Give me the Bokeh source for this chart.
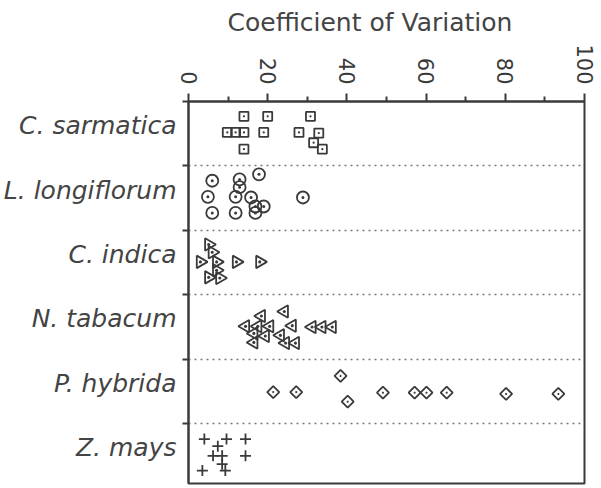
import math
from bokeh.plotting import figure
from bokeh.models import FixedTicker, Range1d, ColumnDataSource
from bokeh.embed import file_html
from bokeh.resources import INLINE

# ---- data ----
species = ["C. sarmatica", "L. longiflorum", "C. indica", "N. tabacum", "P. hybrida", "Z. mays"]
axis_title = "Coefficient of Variation"
x_ticks = [0, 20, 40, 60, 80, 100]
x_minor_ticks = [10, 30, 50, 70, 90]

# coefficient of variation values, and the vertical placement inside each species band (0 = top, 1 = bottom)
sarmatica_cv = [14.0, 20.0, 30.8, 9.8, 11.9, 14.0, 19.0, 27.9, 32.9, 31.6, 14.0, 33.8]
sarmatica_pos = [0.23, 0.23, 0.23, 0.48, 0.48, 0.48, 0.48, 0.48, 0.49, 0.64, 0.74, 0.74]

longiflorum_cv = [6.0, 12.9, 17.8, 12.9, 4.9, 11.9, 15.8, 28.9, 19.0, 16.9, 6.0, 11.9, 16.9]
longiflorum_pos = [0.23, 0.21, 0.13, 0.33, 0.48, 0.48, 0.49, 0.49, 0.63, 0.63, 0.73, 0.73, 0.73]

indica_cv = [5.1, 6.0, 3.0, 7.1, 12.1, 18.0, 7.1, 5.1, 7.9]
indica_pos = [0.22, 0.34, 0.49, 0.49, 0.49, 0.49, 0.62, 0.73, 0.74]

tabacum_cv = [24.2, 18.4, 14.4, 17.5, 20.5, 26.2, 31.2, 33.7, 36.3, 16.5, 19.4, 23.2, 16.5, 24.5, 27.0]
tabacum_pos = [0.26, 0.33, 0.49, 0.49, 0.49, 0.48, 0.50, 0.50, 0.50, 0.60, 0.64, 0.63, 0.74, 0.75, 0.75]

hybrida_cv = [21.4, 27.2, 38.4, 40.2, 49.1, 57.1, 60.1, 65.2, 80.2, 93.4]
hybrida_pos = [0.51, 0.51, 0.26, 0.66, 0.52, 0.52, 0.52, 0.52, 0.54, 0.54]

mays_cv = [4.0, 9.6, 14.4, 7.4, 6.2, 8.5, 14.4, 8.5, 3.5, 9.3]
mays_pos = [0.24, 0.24, 0.24, 0.35, 0.50, 0.50, 0.50, 0.63, 0.73, 0.73]

series_cv = [sarmatica_cv, longiflorum_cv, indica_cv, tabacum_cv, hybrida_cv, mays_cv]
series_pos = [sarmatica_pos, longiflorum_pos, indica_pos, tabacum_pos, hybrida_pos, mays_pos]

# ---- styles ----
INK = "#3a3a3a"
LABEL_LIFT = 0.125   # species names sit a little above the middle of their band
styles = [
    dict(marker="square_dot", size=9, angle=0.0),
    dict(marker="circle_dot", size=12, angle=0.0),
    dict(marker="triangle_dot", size=12.5, angle=-math.pi / 2),
    dict(marker="triangle_dot", size=12.5, angle=math.pi / 2),
    dict(marker="square_dot", size=8.5, angle=math.pi / 4),
    dict(marker="cross", size=11, angle=0.0),
]

p = figure(width=596, height=486,
           x_range=Range1d(0, 100), y_range=Range1d(5.93, 0),
           x_axis_location="above",
           output_backend="svg", toolbar_location=None,
           min_border_left=188, min_border_right=12,
           min_border_top=100, min_border_bottom=3)

p.background_fill_color = "white"
p.border_fill_color = "white"
p.outline_line_color = INK
p.outline_line_width = 2

for i, (cv, pos, st) in enumerate(zip(series_cv, series_pos, styles)):
    src = ColumnDataSource(dict(x=cv, y=[i + f for f in pos]))
    p.scatter("x", "y", source=src, marker=st["marker"], size=st["size"],
              angle=st["angle"], fill_color=None, line_color=INK, line_width=1.8)

# top axis
xa = p.xaxis[0]
xa.ticker = FixedTicker(ticks=x_ticks, minor_ticks=x_minor_ticks)
xa.major_tick_out = 8
xa.major_tick_in = 0
xa.minor_tick_out = 5
xa.minor_tick_in = 0
xa.axis_line_width = 2
xa.axis_line_color = INK
xa.major_tick_line_color = INK
xa.minor_tick_line_color = INK
xa.major_tick_line_width = 2
xa.minor_tick_line_width = 2
xa.major_label_orientation = -math.pi / 2
xa.major_label_standoff = 9
xa.major_label_text_font = "DejaVu Sans"
xa.major_label_text_font_size = "21px"
xa.major_label_text_color = INK

# left axis: species names near band centres, tick marks at band boundaries
ya = p.yaxis[0]
label_at = [i + 0.5 - LABEL_LIFT for i in range(len(species))]
ya.ticker = FixedTicker(ticks=label_at, minor_ticks=list(range(len(species) + 1)))
ya.major_label_overrides = {c: s for c, s in zip(label_at, species)}
ya.major_tick_out = 0
ya.major_tick_in = 0
ya.minor_tick_out = 6
ya.minor_tick_in = 0
ya.minor_tick_line_color = INK
ya.minor_tick_line_width = 2
ya.axis_line_width = 2
ya.axis_line_color = INK
ya.major_label_standoff = 6
ya.major_label_text_font = "DejaVu Sans"
ya.major_label_text_font_style = "italic"
ya.major_label_text_font_size = "25px"
ya.major_label_text_color = "#444444"

# dotted separators between species
p.xgrid.visible = False
p.ygrid.ticker = FixedTicker(ticks=list(range(1, len(species))))
p.ygrid.grid_line_color = "#777777"
p.ygrid.grid_line_dash = "2 4"
p.ygrid.grid_line_width = 1.5

# title (axis name) above the top axis
p.title.text = axis_title
p.title.align = "left"
p.title.offset = 39
p.title.text_font = "DejaVu Sans"
p.title.text_font_style = "normal"
p.title.text_font_size = "25px"
p.title.text_color = "#444444"
p.title.standoff = 10

open("out.html", "w").write(file_html(p, INLINE))
